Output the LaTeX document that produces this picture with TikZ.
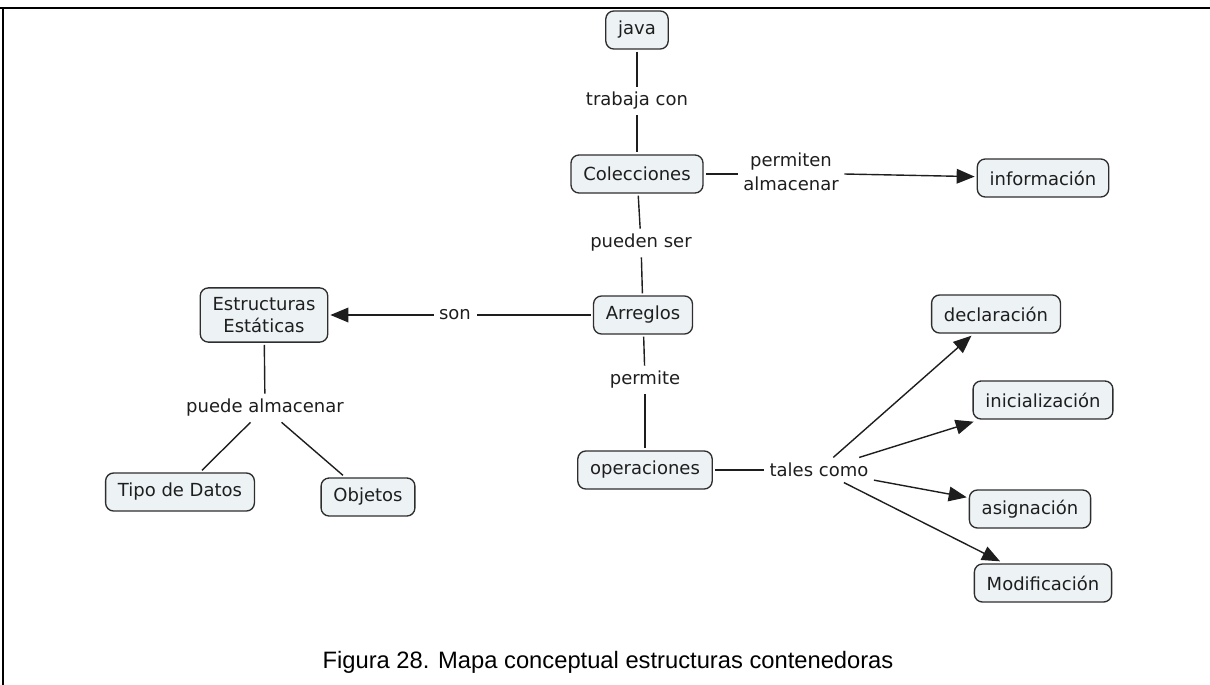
\documentclass[tikz,border=0pt]{standalone}
\usepackage{fontspec}
\setmainfont{DejaVu Sans}
\newfontfamily\captionfont{Liberation Sans}
\usetikzlibrary{arrows.meta}

\definecolor{boxfill}{HTML}{EDF2F5}
\definecolor{boxline}{HTML}{2E2E2E}
\definecolor{ink}{HTML}{1E1E1E}

\tikzset{
  concept/.style={draw=boxline, fill=boxfill, line width=1pt, rounded corners=6pt,
    inner xsep=9.25pt, inner ysep=7.3pt, minimum height=28.5pt, outer sep=2pt,
    font=\fontsize{13.5}{16}\selectfont, text=ink, align=center},
  linkword/.style={inner sep=4pt, font=\fontsize{13.5}{18}\selectfont, text=ink, align=center},
  link/.style={draw=ink, line width=1.05pt},
  linkarrow/.style={link, -{Triangle[length=13.5pt,width=11pt]}},
}

\begin{document}
\begin{tikzpicture}[x=0.75pt,y=-0.75pt]
  \useasboundingbox (0,0) rectangle (1210,685);

  % page frame
  \draw[line width=0.8pt] (0,8) -- (1210,8);
  \draw[line width=1.6pt] (0,8) -- (45,8);
  \draw[line width=1.6pt] (1165,8) -- (1210,8);
  \draw[line width=1.2pt] (3,8) -- (3,685);

  % concepts
  \node[concept] (java)  at (637,30)  {java};
  \node[concept] (colec) at (637,174) {Colecciones};
  \node[concept] (info)  at (1043,178) {información};
  \node[concept] (arreg) at (643,315) {Arreglos};
  \node[concept] (estr)  at (264,315) {Estructuras\\Estáticas};
  \node[concept] (oper)  at (645,470) {operaciones};
  \node[concept] (decl)  at (996,314) {declaración};
  \node[concept] (inic)  at (1043,400) {inicialización};
  \node[concept] (asig)  at (1030,509) {asignación};
  \node[concept] (modif) at (1043,583) {Modificación};
  \node[concept] (tipo)  at (180,492) {Tipo de Datos};
  \node[concept] (obj)   at (368,497) {Objetos};

  % linking phrases
  \node[linkword] (ltrab) at (637,101) {trabaja con};
  \node[linkword] (lperm) at (791,172) {permiten\\almacenar};
  \node[linkword] (lpued) at (641,243) {pueden ser};
  \node[linkword] (lson)  at (455,315) {son};
  \node[linkword] (lpmt)  at (645,380) {permite};
  \node[linkword] (lpa)   at (265,408) {puede almacenar};
  \node[linkword] (ltal)  at (819,470) {tales como};

  % connectors
  \draw[link] (java) -- (ltrab);
  \draw[link] (ltrab) -- (colec);
  \draw[link] (colec.east) -- (lperm.west |- colec.east);
  \draw[linkarrow] (lperm.east |- colec.east) -- (info);
  \draw[link] (colec) -- (lpued);
  \draw[link] (lpued) -- (arreg);
  \draw[link] (arreg) -- (lson);
  \draw[linkarrow] (lson) -- (estr);
  \draw[link] (arreg) -- (lpmt);
  \draw[link] (lpmt) -- (oper);
  \draw[link] (estr) -- (lpa);
  \draw[link] (lpa) -- (tipo);
  \draw[link] (lpa) -- (obj);
  \draw[link] (oper) -- (ltal);
  \draw[linkarrow] (ltal) -- (decl);
  \draw[linkarrow] (ltal) -- (inic);
  \draw[linkarrow] (ltal) -- (asig);
  \draw[linkarrow] (ltal) -- (modif);

  % caption
  \node[font=\captionfont\fontsize{17.8}{21}\selectfont, text=black, inner sep=0pt] (cap)
    at (608,662) {Figura 28. Mapa conceptual estructuras contenedoras};
\end{tikzpicture}
\end{document}
